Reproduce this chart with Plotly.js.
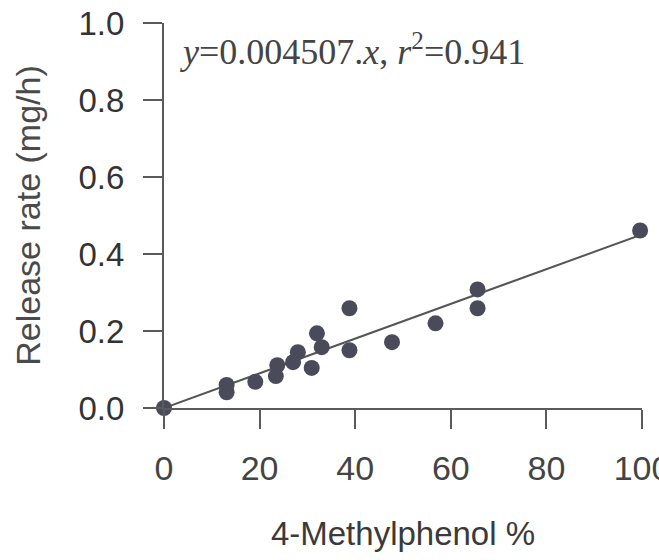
<!DOCTYPE html>
<html>
<head>
<meta charset="utf-8">
<script src="https://cdn.plot.ly/plotly-3.0.1.min.js"></script>
<style>
  html, body { margin: 0; padding: 0; background: #fff; overflow: hidden; }
  #chart { width: 659px; height: 560px; }
</style>
</head>
<body>
<div id="chart"></div>
<script>
// 4-methylphenol content (%) vs. measured release rate (mg/h)
const methylphenolPct = [0, 13.1, 13.1, 19.1, 23.4, 23.7, 27.0, 28.0, 30.9, 32.0, 33.0, 38.8, 38.8, 47.7, 56.8, 65.6, 65.6, 99.6];
const releaseRate     = [0, 0.060, 0.041, 0.068, 0.083, 0.111, 0.119, 0.145, 0.104, 0.194, 0.158, 0.259, 0.150, 0.171, 0.220, 0.308, 0.259, 0.461];

// Regression through the origin
const fitSlope = 0.004507;
const fitR2 = 0.941;
const fitX = [0, 100];
const fitY = fitX.map(v => v * fitSlope);

const xTickVals = [0, 20, 40, 60, 80, 100];
const yTickVals = [0, 0.2, 0.4, 0.6, 0.8, 1.0];
const yTickText = ['0.0', '0.2', '0.4', '0.6', '0.8', '1.0'];

const axisColor = '#5a5a5a';
const markColor = '#4a4b5a';

const traces = [
  {
    x: fitX, y: fitY,
    type: 'scatter', mode: 'lines',
    line: { color: '#555555', width: 2 },
    cliponaxis: false,
    hoverinfo: 'skip'
  },
  {
    x: methylphenolPct, y: releaseRate,
    type: 'scatter', mode: 'markers',
    marker: { color: markColor, size: 16, line: { width: 0 } },
    cliponaxis: false
  }
];

const layout = {
  width: 659, height: 560,
  margin: { l: 164, r: 17, t: 23, b: 152, pad: 0 },
  paper_bgcolor: '#ffffff', plot_bgcolor: '#ffffff',
  showlegend: false,
  font: { family: 'Liberation Sans, Arial, sans-serif', color: '#3a3a3a' },
  xaxis: {
    range: [0, 100], fixedrange: true,
    tickmode: 'array', tickvals: xTickVals,
    ticks: 'outside', ticklen: 19, tickwidth: 2, tickcolor: axisColor,
    showline: true, linecolor: axisColor, linewidth: 2,
    showgrid: false, zeroline: false,
    tickfont: { size: 34, color: '#444444' },
    ticklabelstandoff: 10,
    ticklabeloverflow: 'allow',
    title: { text: '4-Methylphenol %', font: { size: 33, color: '#3a3a3a' }, standoff: 36 }
  },
  yaxis: {
    range: [0, 1], fixedrange: true,
    tickmode: 'array', tickvals: yTickVals, ticktext: yTickText,
    ticks: 'outside', ticklen: 19, tickwidth: 2, tickcolor: axisColor,
    showline: true, linecolor: axisColor, linewidth: 2,
    showgrid: false, zeroline: false,
    tickfont: { size: 33, color: '#333333' },
    ticklabelstandoff: 12,
    title: { text: 'Release rate (mg/h)', font: { size: 34, color: '#4a4a4a' }, standoff: 28 }
  },
  annotations: [
    {
      xref: 'paper', yref: 'paper',
      x: 0.03, y: 0.93, xanchor: 'left', yanchor: 'middle',
      text: '<i>y</i>=0.004507.<i>x</i>, <i>r</i><sup>2</sup>=' + fitR2.toFixed(3),
      showarrow: false,
      font: { family: 'Liberation Serif, Times New Roman, serif', size: 36, color: '#444444' }
    }
  ]
};

Plotly.newPlot('chart', traces, layout, { staticPlot: true, displayModeBar: false });
</script>
</body>
</html>
